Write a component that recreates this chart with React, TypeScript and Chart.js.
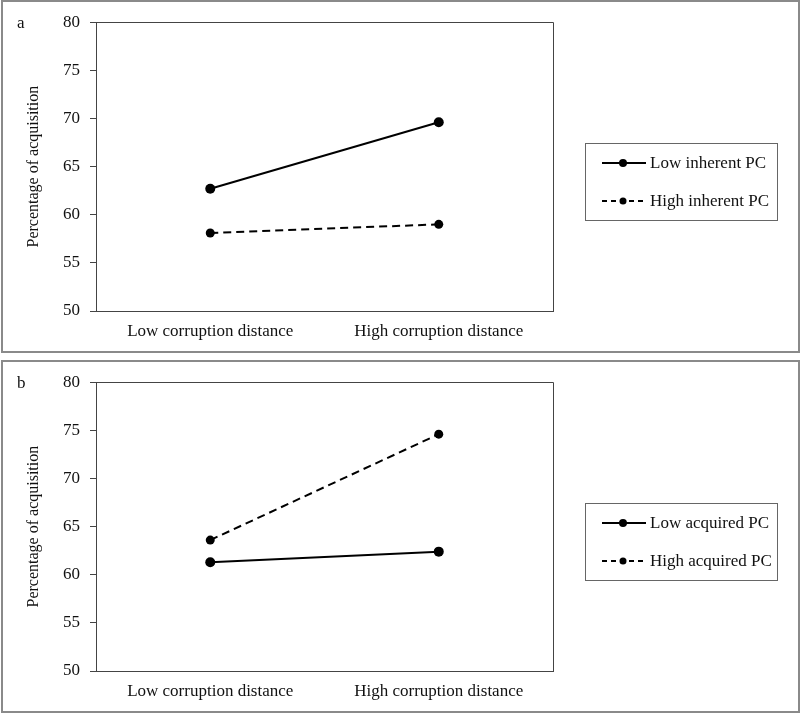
import React, { useEffect, useRef } from "react";
import { Chart, registerables } from "chart.js";

Chart.register(...registerables);

const categories = ["Low corruption distance", "High corruption distance"];
const yTitle = "Percentage of acquisition";
const yMin = 50;
const yMax = 80;
const yStep = 5;

// Panel a
const panelALetter = "a";
const lowInherentLabel = "Low inherent PC";
const lowInherentValues = [62.7, 69.6];
const highInherentLabel = "High inherent PC";
const highInherentValues = [58.1, 59.0];

// Panel b
const panelBLetter = "b";
const lowAcquiredLabel = "Low acquired PC";
const lowAcquiredValues = [61.3, 62.4];
const highAcquiredLabel = "High acquired PC";
const highAcquiredValues = [63.6, 74.6];

const FONT_FAMILY = "'Liberation Serif', 'Times New Roman', serif";
const TEXT_COLOR = "#111";
const AXIS_COLOR = "#444";

const CANVAS_W = 795;
const CANVAS_H = 349;

type SeriesSpec = { label: string; values: number[]; dashed: boolean };

function makeDataset(s: SeriesSpec) {
  return {
    label: s.label,
    data: s.values,
    borderColor: "#000",
    backgroundColor: "#000",
    borderWidth: 2,
    borderDash: s.dashed ? [8, 5] : [],
    pointRadius: s.dashed ? 4.5 : 5,
    pointBackgroundColor: "#000",
    pointBorderColor: "#000",
    pointBorderWidth: 0,
    fill: false,
    tension: 0,
  };
}

const framePlugin = {
  id: "plotFrame",
  afterDraw(chart: any) {
    const { ctx, chartArea } = chart;
    const letter = chart.options.plugins.plotFrame?.letter ?? "";
    ctx.save();
    ctx.strokeStyle = AXIS_COLOR;
    ctx.lineWidth = 1;
    ctx.beginPath();
    ctx.moveTo(chartArea.left, Math.round(chartArea.top) + 0.5);
    ctx.lineTo(Math.round(chartArea.right) + 0.5, Math.round(chartArea.top) + 0.5);
    ctx.lineTo(Math.round(chartArea.right) + 0.5, chartArea.bottom);
    ctx.stroke();
    // panel letter
    ctx.fillStyle = TEXT_COLOR;
    ctx.font = `17px ${FONT_FAMILY}`;
    ctx.textAlign = "left";
    ctx.textBaseline = "alphabetic";
    ctx.fillText(letter, 14, 26);
    ctx.restore();
  },
};

const boxLegendPlugin = {
  id: "boxLegend",
  afterDraw(chart: any) {
    const { ctx } = chart;
    const boxL = 582;
    const boxR = 774;
    const boxT = 141;
    const boxB = 218;
    ctx.save();
    ctx.strokeStyle = "#666";
    ctx.lineWidth = 1;
    ctx.strokeRect(boxL + 0.5, boxT + 0.5, boxR - boxL, boxB - boxT);
    chart.data.datasets.forEach((ds: any, i: number) => {
      const y = 161 + i * 38;
      ctx.strokeStyle = "#000";
      ctx.lineWidth = 2;
      const dashed = ds.borderDash && ds.borderDash.length > 0;
      ctx.setLineDash(dashed ? [5, 4] : []);
      ctx.beginPath();
      ctx.moveTo(599, y);
      ctx.lineTo(643, y);
      ctx.stroke();
      ctx.setLineDash([]);
      ctx.fillStyle = "#000";
      ctx.beginPath();
      ctx.arc(620, y, dashed ? 3.5 : 4, 0, Math.PI * 2);
      ctx.fill();
      ctx.fillStyle = TEXT_COLOR;
      ctx.font = `17px ${FONT_FAMILY}`;
      ctx.textAlign = "left";
      ctx.textBaseline = "middle";
      ctx.fillText(ds.label, 647, y + 1);
    });
    ctx.restore();
  },
};

function Panel({ letter, series, top }: { letter: string; series: SeriesSpec[]; top: number }) {
  const ref = useRef<HTMLCanvasElement | null>(null);
  useEffect(() => {
    if (!ref.current) return;
    const font = { family: FONT_FAMILY, size: 16 };
    const labelFont = { family: FONT_FAMILY, size: 17 };
    const chart = new Chart(ref.current, {
      type: "line",
      data: {
        labels: categories,
        datasets: series.map(makeDataset) as any,
      },
      plugins: [framePlugin, boxLegendPlugin],
      options: {
        animation: false,
        responsive: false,
        devicePixelRatio: 1,
        layout: { padding: { top: 18, right: 245, left: 0, bottom: 0 } },
        plugins: {
          legend: { display: false },
          tooltip: { enabled: false },
          plotFrame: { letter },
        } as any,
        scales: {
          x: {
            type: "category",
            offset: true,
            grid: { drawOnChartArea: false, drawTicks: false },
            border: { display: true, color: AXIS_COLOR, width: 1 },
            ticks: { padding: 10, font: labelFont, color: TEXT_COLOR, maxRotation: 0, autoSkip: false },
            afterFit: (s: any) => {
              s.height = 40;
            },
          },
          y: {
            min: yMin,
            max: yMax,
            ticks: { stepSize: yStep, padding: 10, font: labelFont, color: TEXT_COLOR },
            grid: { drawOnChartArea: false, drawTicks: true, tickLength: 6, color: AXIS_COLOR },
            border: { display: true, color: AXIS_COLOR, width: 1 },
            title: {
              display: true,
              text: yTitle,
              font,
              color: TEXT_COLOR,
              padding: { top: 21, bottom: 0 },
            },
            afterFit: (s: any) => {
              s.width = 93;
            },
          },
        },
      } as any,
    });
    return () => chart.destroy();
  }, [letter, series]);

  return (
    <div
      style={{
        position: "absolute",
        left: 1,
        top,
        width: CANVAS_W,
        height: CANVAS_H,
        border: "2px solid #8a8a8a",
        background: "#fff",
      }}
    >
      <canvas ref={ref} width={CANVAS_W} height={CANVAS_H} style={{ display: "block" }} />
    </div>
  );
}

const seriesA: SeriesSpec[] = [
  { label: lowInherentLabel, values: lowInherentValues, dashed: false },
  { label: highInherentLabel, values: highInherentValues, dashed: true },
];
const seriesB: SeriesSpec[] = [
  { label: lowAcquiredLabel, values: lowAcquiredValues, dashed: false },
  { label: highAcquiredLabel, values: highAcquiredValues, dashed: true },
];

export default function App() {
  return (
    <div>
      <Panel letter={panelALetter} series={seriesA} top={0} />
      <Panel letter={panelBLetter} series={seriesB} top={360} />
    </div>
  );
}
